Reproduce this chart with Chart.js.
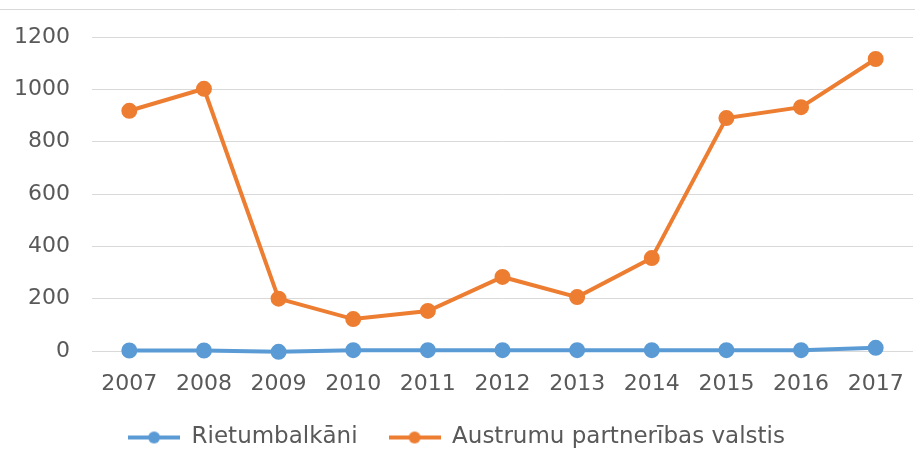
<!DOCTYPE html>
<html>
<head>
<meta charset="utf-8">
<script src="https://cdn.jsdelivr.net/npm/chart.js@4/dist/chart.umd.min.js"></script>
<style>
  html, body { margin: 0; padding: 0; background: #fff; }
  #wrap { width: 915px; height: 462px; }
</style>
</head>
<body>
<div id="wrap"><canvas id="chart" width="915" height="462"></canvas></div>
<script>
const years = ['2007', '2008', '2009', '2010', '2011', '2012', '2013', '2014', '2015', '2016', '2017'];
const rietumbalkani = [2, 2, -3, 3, 3, 3, 3, 3, 3, 3, 12];
const austrumu = [918, 1002, 200, 122, 153, 283, 206, 355, 890, 932, 1116];
const yTicks = [0, 200, 400, 600, 800, 1000, 1200];

const blue = '#5b9bd5';
const orange = '#ed7d31';
const textColor = '#595959';
const gridColor = '#d9d9d9';

// legend marker: short line with a dot in the middle
function marker(color) {
    const c = document.createElement('canvas');
    c.width = 52;
    c.height = 14;
    const g = c.getContext('2d');
    g.strokeStyle = color;
    g.lineWidth = 4;
    g.beginPath();
    g.moveTo(0, 7);
    g.lineTo(52, 7);
    g.stroke();
    g.fillStyle = color;
    g.beginPath();
    g.arc(26, 7, 6, 0, Math.PI * 2);
    g.fill();
    return c;
}

const topLine = {
    id: 'topLine',
    beforeDraw(chart) {
        const ctx = chart.ctx;
        ctx.save();
        ctx.strokeStyle = gridColor;
        ctx.lineWidth = 1;
        ctx.beginPath();
        ctx.moveTo(0, 9.5);
        ctx.lineTo(chart.width, 9.5);
        ctx.stroke();
        ctx.restore();
    }
};

const ctx = document.getElementById('chart').getContext('2d');
const myChart = new Chart(ctx, {
    type: 'line',
    data: {
        labels: years,
        datasets: [{
            label: 'Rietumbalkāni',
            data: rietumbalkani,
            borderColor: blue,
            backgroundColor: blue,
            borderWidth: 4,
            pointRadius: 6,
            pointHoverRadius: 6,
            clip: false
        },
        {
            label: 'Austrumu partnerības valstis',
            data: austrumu,
            borderColor: orange,
            backgroundColor: orange,
            borderWidth: 4,
            pointRadius: 6,
            pointHoverRadius: 6,
            clip: false
        }]
    },
    options: {
        responsive: false,
        animation: false,
        layout: { autoPadding: false, padding: { top: 37, right: 2, left: 0, bottom: 3 } },
        plugins: {
            tooltip: { enabled: false },
            legend: {
                position: 'bottom',
                labels: {
                    color: textColor,
                    font: { family: 'DejaVu Sans', size: 23 },
                    usePointStyle: true,
                    pointStyleWidth: 52,
                    padding: 31,
                    generateLabels(chart) {
                        return chart.data.datasets.map((ds, i) => ({
                            text: ds.label,
                            fontColor: textColor,
                            pointStyle: marker(ds.borderColor),
                            datasetIndex: i,
                            hidden: false,
                            lineWidth: 0
                        }));
                    }
                }
            }
        },
        scales: {
            x: {
                offset: true,
                grid: { display: false, drawTicks: false },
                border: { display: false },
                ticks: {
                    color: textColor,
                    font: { family: 'DejaVu Sans', size: 22 },
                    padding: 20,
                    maxRotation: 0
                },
                afterFit(scale) {
                    scale.height = 44;
                    scale.paddingLeft = 0;
                    scale.paddingRight = 0;
                }
            },
            y: {
                min: 0,
                max: 1200,
                afterBuildTicks(scale) {
                    scale.ticks = yTicks.map(v => ({ value: v }));
                },
                grid: { color: gridColor, lineWidth: 1, drawTicks: false },
                border: { display: false },
                ticks: {
                    color: textColor,
                    font: { family: 'DejaVu Sans', size: 22 },
                    padding: 22,
                    callback: v => String(v)
                },
                afterFit(scale) { scale.width = 92; }
            }
        }
    },
    plugins: [topLine]
});
</script>
</body>
</html>
